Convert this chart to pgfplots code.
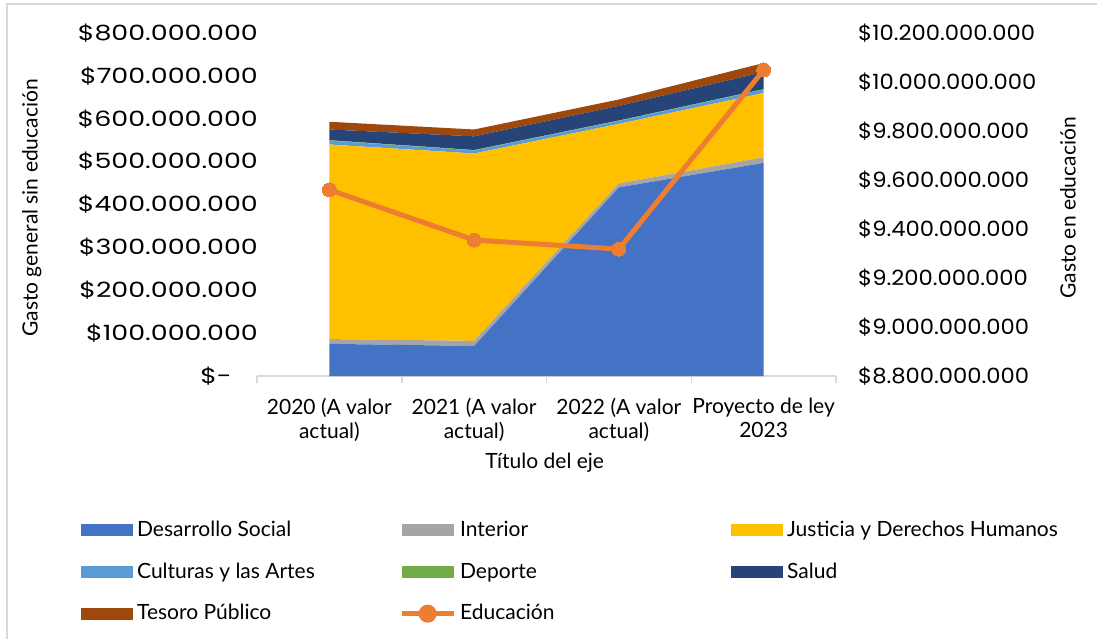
\documentclass[border=0pt]{standalone}
\usepackage{fontspec}
\setmainfont{Lato}
\newfontfamily\numfont[FakeStretch=1.28]{Poppins}
\newfontfamily\numfontR[FakeStretch=1.08]{Poppins}
\usepackage{pgfplots}
\pgfplotsset{compat=1.18}
\definecolor{cDes}{HTML}{4472C4}
\definecolor{cInt}{HTML}{A5A5A5}
\definecolor{cJus}{HTML}{FFC000}
\definecolor{cCul}{HTML}{5B9BD5}
\definecolor{cDep}{HTML}{70AD47}
\definecolor{cSal}{HTML}{264478}
\definecolor{cTes}{HTML}{9E480E}
\definecolor{cEdu}{HTML}{ED7D31}
\definecolor{cAxis}{HTML}{D9D9D9}
\pgfplotsset{
  myarea/.style={fill=#1, draw=none,
    legend image code/.code={\fill[##1] (0bp,-6bp) rectangle (52bp,6bp);}},
  ledu/.style={color=cEdu, line width=5bp,
    legend image code/.code={\draw[cEdu, line width=5bp] (0bp,0bp) -- (52bp,0bp); \fill[cEdu] (26bp,0bp) circle (6.5bp);}},
}
\newcommand{\lt}[2][262bp]{\makebox[#1][l]{#2}}
\begin{document}
\fontsize{21bp}{24bp}\selectfont
\begin{tikzpicture}[x=1bp,y=1bp]
\path[use as bounding box] (0bp,0bp) rectangle (1097bp,-639bp);
\draw[cAxis, line width=1.5bp] (7bp,-660bp) -- (7bp,-4bp) -- (1120bp,-4bp);
\begin{axis}[
  at={(257bp,-376bp)}, anchor=south west,
  scale only axis, width=579bp, height=343bp,
  xmin=-0.5, xmax=3.5, ymin=0, ymax=800,
  scaled y ticks=false,
  stack plots=y,
  axis x line*=bottom, axis y line*=left,
  x axis line style={draw=cAxis, line width=1.5bp, -},
  y axis line style={draw=none},
  xtick={0,1,2,3},
  xticklabels={{2020 (A valor\\actual)},{2021 (A valor\\actual)},{2022 (A valor\\actual)},{Proyecto de ley\\2023}},
  xticklabel style={align=center, anchor=north, inner sep=0pt, yshift=-22bp},
  major tick length=0pt,
  tick style={draw=cAxis, line width=1.5bp},
  ytick style={draw=none},
  extra x ticks={-0.5,0.5,1.5,2.5,3.5},
  extra x tick labels={},
  extra x tick style={major tick length=7bp, tick align=outside},
  ytick={0,100,...,800},
  yticklabels={{\$-\rule{26bp}{0pt}},\$100.000.000,\$200.000.000,\$300.000.000,\$400.000.000,\$500.000.000,\$600.000.000,\$700.000.000,\$800.000.000},
  yticklabel style={anchor=east, inner sep=0pt, xshift=1bp, font=\numfont},
  xlabel={Título del eje},
  xlabel style={at={(axis description cs:0.497,-0.2536)}, anchor=center},
  ylabel={Gasto general sin educación},
  ylabel style={at={(axis description cs:-0.389,0.49)}, anchor=center},
  legend style={at={(axis description cs:-0.3092,-0.4167)}, anchor=north west, draw=none, fill=none,
    legend columns=3, row sep=23bp, column sep=0pt, nodes={inner sep=0pt},
    /tikz/every odd column/.append style={column sep=4bp}},
  legend cell align=left,
]
\addplot[myarea=cDes] coordinates {(0,75) (1,70) (2,440) (3,497)} \closedcycle;
\addlegendentry{\lt{Desarrollo Social}}
\addplot[myarea=cInt] coordinates {(0,11) (1,12) (2,9) (3,13)} \closedcycle;
\addlegendentry{\lt[271bp]{Interior}}
\addplot[myarea=cJus] coordinates {(0,454) (1,437) (2,139) (3,150)} \closedcycle;
\addlegendentry{\lt{Justicia y Derechos Humanos}}
\addplot[myarea=cCul] coordinates {(0,9) (1,7) (2,7) (3,8)} \closedcycle;
\addlegendentry{\lt{Culturas y las Artes}}
\addplot[myarea=cDep] coordinates {(0,1) (1,1) (2,1) (3,1)} \closedcycle;
\addlegendentry{\lt[271bp]{Deporte}}
\addplot[myarea=cSal] coordinates {(0,25) (1,32) (2,34) (3,40)} \closedcycle;
\addlegendentry{\lt{Salud}}
\addplot[myarea=cTes] coordinates {(0,18) (1,16) (2,15) (3,21)} \closedcycle;
\addlegendentry{\lt{Tesoro Público}}
\addlegendimage{ledu}
\addlegendentry{\lt[271bp]{Educación}}
\end{axis}
\begin{axis}[
  at={(257bp,-376bp)}, anchor=south west,
  scale only axis, width=579bp, height=343bp,
  xmin=-0.5, xmax=3.5, ymin=8800, ymax=10200,
  scaled y ticks=false,
  axis x line=none, axis y line*=right,
  y axis line style={draw=none},
  ytick={8800,9000,...,10200},
  yticklabels={\$8.800.000.000,\$9.000.000.000,\$9.200.000.000,\$9.400.000.000,\$9.600.000.000,\$9.800.000.000,\$10.000.000.000,\$10.200.000.000},
  ytick style={draw=none},
  major tick length=0pt,
  yticklabel style={anchor=west, inner sep=0pt, xshift=22bp, font=\numfontR},
  ylabel={Gasto en educación},
  ylabel style={at={(axis description cs:1.4007,0.49)}, anchor=center},
]
\addplot[color=cEdu, line width=5bp, mark=*, mark size=7bp, mark options={fill=cEdu, draw=cEdu, line width=0pt}]
  coordinates {(0,9560) (1,9355) (2,9318) (3,10049)};
\end{axis}
\end{tikzpicture}
\end{document}
